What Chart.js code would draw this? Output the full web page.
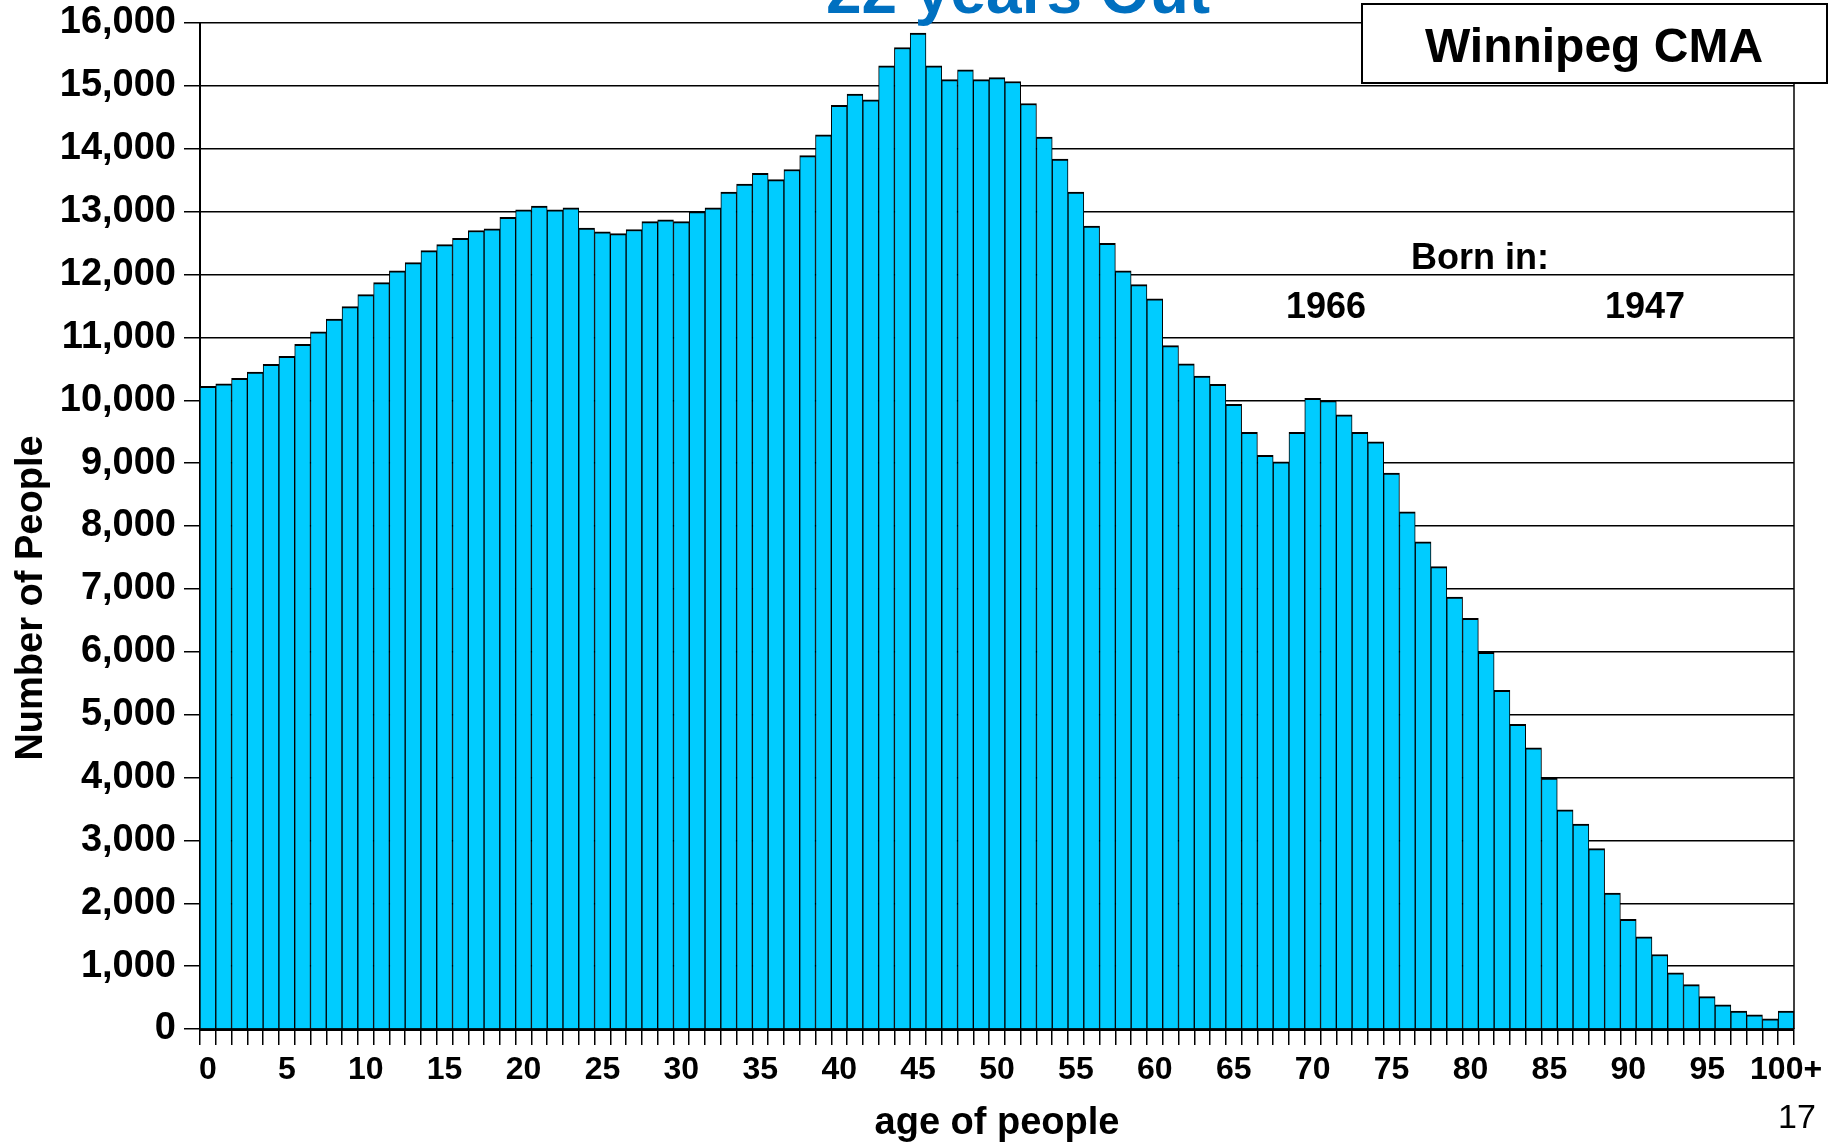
<!DOCTYPE html>
<html>
<head>
<meta charset="utf-8">
<title>Winnipeg CMA – 22 years Out</title>
<script src="https://cdn.jsdelivr.net/npm/chart.js@4.4.1/dist/chart.umd.min.js"></script>
<style>
  html, body { margin: 0; padding: 0; background: #ffffff; }
  #wrap { width: 1839px; height: 1144px; position: relative; }
  canvas { display: block; }
</style>
</head>
<body>
<div id="wrap"><canvas id="chart" width="1839" height="1144"></canvas></div>
<script>
// Age groups (single years, last one open-ended)
const ageLabels = [
  '0','1','2','3','4','5','6','7','8','9',
  '10','11','12','13','14','15','16','17','18','19',
  '20','21','22','23','24','25','26','27','28','29',
  '30','31','32','33','34','35','36','37','38','39',
  '40','41','42','43','44','45','46','47','48','49',
  '50','51','52','53','54','55','56','57','58','59',
  '60','61','62','63','64','65','66','67','68','69',
  '70','71','72','73','74','75','76','77','78','79',
  '80','81','82','83','84','85','86','87','88','89',
  '90','91','92','93','94','95','96','97','98','99',
  '100+'
];

// Projected number of people at each age
const people = [
  10220, 10260, 10350, 10450, 10570, 10700, 10890, 11090, 11290, 11490,
  11680, 11870, 12060, 12190, 12380, 12475, 12575, 12700, 12725, 12910,
  13030, 13090, 13030, 13060, 12740, 12680, 12650, 12715, 12840, 12870,
  12840, 13000, 13060, 13310, 13440, 13610, 13510, 13670, 13890, 14220,
  14690, 14870, 14780, 15320, 15610, 15840, 15320, 15100, 15255, 15100,
  15130, 15070, 14720, 14185, 13835, 13310, 12770, 12495, 12060, 11840,
  11615, 10870, 10580, 10385, 10255, 9935, 9490, 9125, 9020, 9490,
  10030, 9995, 9770, 9490, 9340, 8840, 8225, 7750, 7355, 6870,
  6530, 5990, 5385, 4845, 4470, 3990, 3485, 3260, 2870, 2160,
  1745, 1465, 1185, 895, 705, 515, 385, 285, 225, 160,
  285
];

// Value axis range
const yMin = 0;
const yMax = 16000;
const yStep = 1000;

// Text drawn around the plot
const titleText = '22 years Out';
const regionText = 'Winnipeg CMA';
const bornInText = 'Born in:';
const birthYears = ['1966', '1947'];
const xAxisTitle = 'age of people';
const yAxisTitle = 'Number of People';
const pageNumber = '17';

const FONT = '"Liberation Sans", Arial, Helvetica, sans-serif';

const decorations = {
  id: 'decorations',
  afterDraw(chart) {
    const ctx = chart.ctx;
    const ca = chart.chartArea;
    ctx.save();

    // right frame of the plot
    ctx.strokeStyle = '#000';
    ctx.lineWidth = 1.5;
    ctx.beginPath();
    ctx.moveTo(ca.right, ca.top);
    ctx.lineTo(ca.right, ca.bottom);
    ctx.stroke();

    // headline (runs off the top edge)
    ctx.fillStyle = '#0070C0';
    ctx.font = 'bold 64px ' + FONT;
    ctx.textAlign = 'center';
    ctx.textBaseline = 'alphabetic';
    ctx.fillText(titleText, 1018, 13);

    // region box
    ctx.fillStyle = '#ffffff';
    ctx.fillRect(1362, 4, 465, 79);
    ctx.strokeStyle = '#000';
    ctx.lineWidth = 2;
    ctx.strokeRect(1362, 4, 465, 79);
    ctx.fillStyle = '#000';
    ctx.font = 'bold 48px ' + FONT;
    ctx.fillText(regionText, 1594, 62);

    // birth-year notes
    ctx.font = 'bold 36px ' + FONT;
    ctx.fillText(bornInText, 1480, 269);
    ctx.fillText(birthYears[0], 1326, 318);
    ctx.fillText(birthYears[1], 1645, 318);

    // axis titles
    ctx.font = 'bold 38px ' + FONT;
    ctx.fillText(xAxisTitle, (ca.left + ca.right) / 2, 1134);
    ctx.save();
    ctx.translate(42, 598);
    ctx.rotate(-Math.PI / 2);
    ctx.fillText(yAxisTitle, 0, 0);
    ctx.restore();

    // page number
    ctx.font = '34px ' + FONT;
    ctx.fillText(pageNumber, 1797, 1128);

    ctx.restore();
  }
};

new Chart(document.getElementById('chart'), {
  type: 'bar',
  data: {
    labels: ageLabels,
    datasets: [{
      data: people,
      backgroundColor: '#00CCFF',
      borderColor: '#000000',
      borderWidth: { top: 2, left: 1, right: 1, bottom: 0 },
      borderSkipped: 'start',
      barPercentage: 1.0,
      categoryPercentage: 1.0
    }]
  },
  options: {
    responsive: false,
    animation: false,
    devicePixelRatio: 1,
    layout: { padding: { top: 23, right: 45, left: 0, bottom: 0 } },
    plugins: {
      legend: { display: false },
      tooltip: { enabled: false },
      title: { display: false }
    },
    scales: {
      x: {
        type: 'category',
        offset: true,
        grid: {
          display: true,
          offset: true,
          drawOnChartArea: false,
          drawTicks: true,
          tickLength: 16,
          color: '#000',
          lineWidth: 1.5
        },
        border: { display: true, color: '#000', width: 3 },
        ticks: {
          autoSkip: false,
          maxRotation: 0,
          minRotation: 0,
          padding: 6,
          color: '#000',
          font: { family: FONT, size: 32, weight: 'bold' },
          callback(value, index) {
            return index % 5 === 0 ? this.getLabelForValue(value) : '';
          }
        },
        afterFit(scale) {
          scale.height = 115;
          scale.paddingLeft = 0;
          scale.paddingRight = 0;
        }
      },
      y: {
        min: yMin,
        max: yMax,
        grid: {
          color: '#000',
          lineWidth: 1.5,
          drawTicks: true,
          tickLength: 16
        },
        border: { display: true, color: '#000', width: 2 },
        ticks: {
          stepSize: yStep,
          maxTicksLimit: 20,
          padding: 8,
          color: '#000',
          font: { family: FONT, size: 38, weight: 'bold' },
          callback(value) { return value.toLocaleString('en-US'); }
        },
        afterFit(scale) {
          scale.width = 200;
          scale.paddingTop = 0;
          scale.paddingBottom = 0;
        }
      }
    }
  },
  plugins: [decorations]
});
</script>
</body>
</html>
